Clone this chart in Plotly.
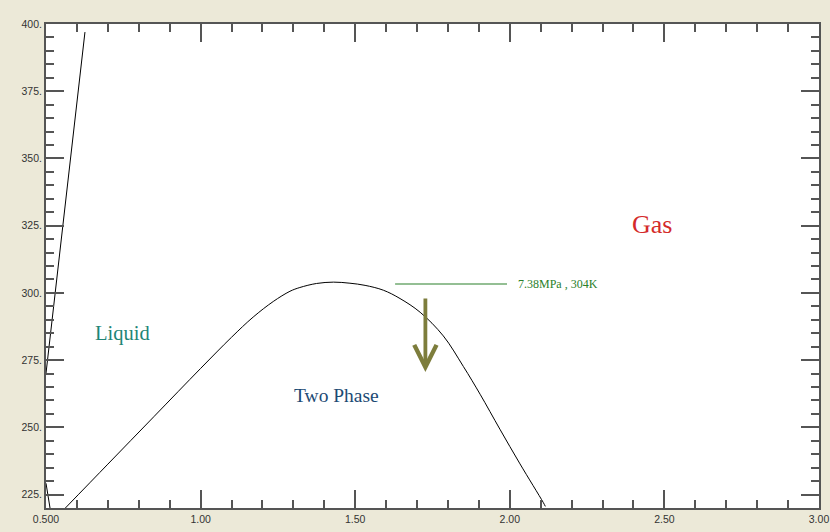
import plotly.graph_objects as go

# ---- data ----
dome_x = [0.561, 0.700, 0.850, 1.000, 1.100, 1.170, 1.235, 1.289, 1.321, 1.375, 1.430, 1.483,
          1.532, 1.591, 1.645, 1.710, 1.785, 1.850, 1.904, 1.968, 2.033, 2.108, 2.115]
dome_T = [219.8, 236.3, 254.1, 271.9, 283.5, 291.0, 296.8, 300.6, 302.0, 303.5, 304.0, 303.6,
          302.8, 301.0, 297.9, 292.8, 284.0, 272.6, 262.3, 249.3, 236.4, 222.1, 220.6]

liquid_x = [0.500, 0.626]
liquid_T = [270.1, 397.0]

liquid_low_x = [0.500, 0.513]
liquid_low_T = [229.2, 220.0]

crit_line_x = [1.629, 1.991]
crit_line_T = [303.3, 303.3]
crit_label = "7.38MPa , 304K"

arrow_x = 1.727
arrow_T_start = 298.5
arrow_T_end = 270.6

x_tickvals = [0.5, 1.0, 1.5, 2.0, 2.5, 3.0]
x_ticktext = ["0.500", "1.00", "1.50", "2.00", "2.50", "3.00"]
y_tickvals = [225, 250, 275, 300, 325, 350, 375, 400]
y_ticktext = ["225.", "250.", "275.", "300.", "325.", "350.", "375.", "400."]

region_labels = ["Gas", "Liquid", "Two Phase"]

# ---- figure ----
fig = go.Figure()
line_style = dict(color="black", width=1)
fig.add_trace(go.Scatter(x=dome_x, y=dome_T, mode="lines", line=dict(color="black", width=1,
                         shape="spline", smoothing=1.0), hoverinfo="skip"))
fig.add_trace(go.Scatter(x=liquid_x, y=liquid_T, mode="lines", line=line_style, hoverinfo="skip"))
fig.add_trace(go.Scatter(x=liquid_low_x, y=liquid_low_T, mode="lines", line=line_style, hoverinfo="skip"))
fig.add_trace(go.Scatter(x=crit_line_x, y=crit_line_T, mode="lines",
                         line=dict(color="#2a802a", width=1.2), hoverinfo="skip"))

serif = "Liberation Serif, Times New Roman, serif"
annotations = [
    dict(x=crit_line_x[1] + 0.030, y=crit_line_T[0], text=crit_label, showarrow=False,
         xanchor="left", yanchor="middle", font=dict(family=serif, size=12, color="#2a802a")),
    dict(x=2.459, y=325.5, text=region_labels[0], showarrow=False,
         font=dict(family=serif, size=26, color="#d42a2a")),
    dict(x=0.746, y=285.0, text=region_labels[1], showarrow=False,
         font=dict(family=serif, size=20.5, color="#1f8576")),
    dict(x=1.438, y=261.9, text=region_labels[2], showarrow=False,
         font=dict(family=serif, size=19.5, color="#1c4a74")),
    dict(x=arrow_x, y=arrow_T_end, ax=arrow_x, ay=arrow_T_start, xref="x", yref="y",
         axref="x", ayref="y", showarrow=True, text="", arrowhead=5, arrowsize=1.15,
         arrowwidth=3.8, arrowcolor="#7d7d3c", standoff=0, startstandoff=0),
]

axis_common = dict(
    showgrid=False, zeroline=False, showline=True, linecolor="#555555", linewidth=2,
    mirror="allticks", ticks="inside", ticklen=18, tickwidth=1.5, tickcolor="#555555",
    automargin=False,
    tickfont=dict(family="Liberation Sans, Arial, sans-serif", size=10.5, color="#333333"),
)

fig.update_xaxes(range=[0.5, 3.0], tickmode="array", tickvals=x_tickvals, ticktext=x_ticktext,
                 minor=dict(dtick=0.1, tick0=0.5, ticks="inside", ticklen=8, tickwidth=1.5,
                            tickcolor="#555555", showgrid=False),
                 **axis_common)
fig.update_yaxes(range=[220, 400], tickmode="array", tickvals=y_tickvals, ticktext=y_ticktext,
                 minor=dict(dtick=5, tick0=220, ticks="inside", ticklen=8, tickwidth=1.5,
                            tickcolor="#555555", showgrid=False),
                 **axis_common)

fig.update_layout(
    width=830, height=532,
    margin=dict(l=46, r=11, t=24, b=24, autoexpand=False),
    paper_bgcolor="#ece9d8", plot_bgcolor="white",
    showlegend=False,
    annotations=annotations,
)

fig.write_html(
    "out.html",
    config={"displayModeBar": False},
    post_script="document.body.style.margin='0';document.body.style.background='#ece9d8';"
                "document.body.style.overflow='hidden';",
)
